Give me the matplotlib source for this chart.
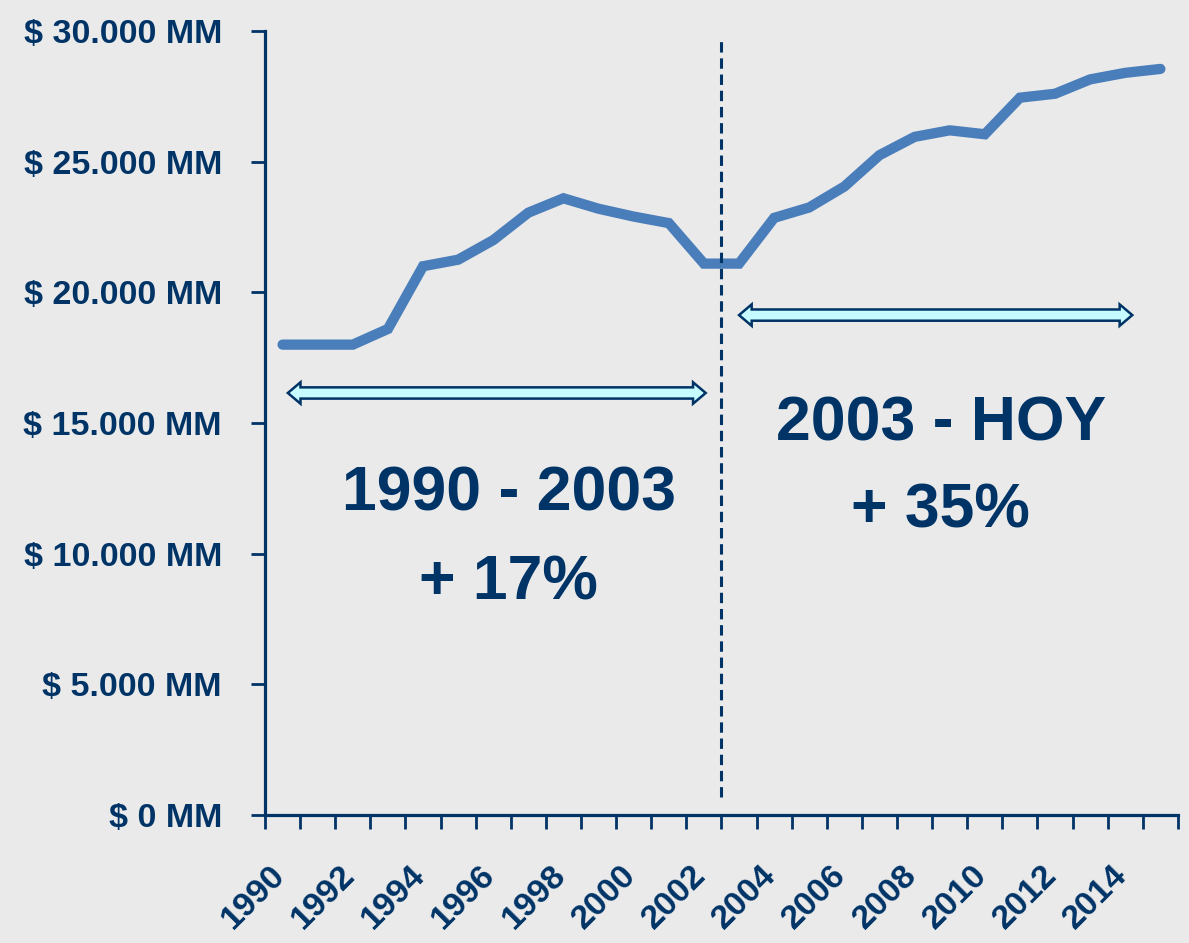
import numpy as np
import matplotlib
matplotlib.use("Agg")
import matplotlib.pyplot as plt
from matplotlib.patches import Polygon
from matplotlib.transforms import ScaledTranslation

plt.rcParams['font.family'] = ['Liberation Sans', 'DejaVu Sans']

# data
years = list(range(1990, 2016))
values = [18000, 18000, 18000, 18600, 21000, 21250, 22000, 23050, 23600, 23200,
          22900, 22650, 21100, 21100, 22850, 23250, 24050, 25250, 25950, 26200,
          26050, 27450, 27600, 28150, 28400, 28550]
yticks = [0, 5000, 10000, 15000, 20000, 25000, 30000]
ytick_labels = ['$ 0 MM', '$ 5.000 MM', '$ 10.000 MM', '$ 15.000 MM',
                '$ 20.000 MM', '$ 25.000 MM', '$ 30.000 MM']
split_year = 2003
period_titles = ['1990 - 2003', '2003 - HOY']
period_growth = ['+ 17%', '+ 35%']

navy = '#003366'
bg = '#EAEAEA'
line_col = '#4A7EBB'
arrow_fill = '#C6FCFF'

fig = plt.figure(figsize=(11.89, 9.43), dpi=100, facecolor=bg)
ax = fig.add_axes([0.2229, 0.1357, 0.9907 - 0.2229, 0.9671 - 0.1357])
ax.set_facecolor(bg)

x = np.arange(len(years))
ax.plot(x, values, color=line_col, lw=7.4, solid_capstyle='round', solid_joinstyle='miter', zorder=3)

ax.set_xlim(-0.5, len(years) - 0.5)
ax.set_ylim(0, 30000)

# axes styling
for s in ['top', 'right']:
    ax.spines[s].set_visible(False)
for s in ['left', 'bottom']:
    ax.spines[s].set_color(navy)
    ax.spines[s].set_linewidth(2.3)

ax.set_yticks(yticks)
ax.set_yticklabels(ytick_labels)
ax.tick_params(axis='y', length=10, width=2, color=navy, pad=21,
               labelsize=24.5, labelcolor=navy)
for t in ax.get_yticklabels():
    t.set_fontweight('bold')

# category ticks between years, labels every other year
ax.set_xticks(np.arange(-0.5, len(years), 1.0), minor=True)
ax.set_xticks(x[::2])
ax.set_xticklabels([str(y) for y in years[::2]], rotation=45, ha='right', va='top',
                   fontsize=24.5, fontweight='bold', color=navy)
ax.tick_params(axis='x', which='major', length=0, pad=32)
ax.tick_params(axis='x', which='minor', length=10, width=2, color=navy)
shift = ScaledTranslation(6 / 72, 0, fig.dpi_scale_trans)
for t in ax.get_xticklabels():
    t.set_transform(t.get_transform() + shift)

# split line
xs = years.index(split_year) - 0.5
ax.vlines(xs, 700, 29600, colors=navy, lw=2.2, linestyles=(0, (3.4, 1.9)), zorder=4)


def double_arrow(x0, x1, yc, fill):
    head_len = 0.36
    hh = 410   # half head height
    sh = 215   # half shaft height
    pts = [(x0, yc), (x0 + head_len, yc + hh), (x0 + head_len, yc + sh),
           (x1 - head_len, yc + sh), (x1 - head_len, yc + hh), (x1, yc),
           (x1 - head_len, yc - hh), (x1 - head_len, yc - sh),
           (x0 + head_len, yc - sh), (x0 + head_len, yc - hh)]
    ax.add_patch(Polygon(pts, closed=True, facecolor=fill, edgecolor=navy,
                         lw=1.8, joinstyle='miter', zorder=4))


# period arrows and labels
arrow_spans = [(0.15, 12.05, 16150), (13.0, 24.2, 19130)]
text_x = [6.44, 18.75]
title_y = [11670, 14350]
growth_y = [8230, 10985]
for (x0, x1, ya), tx, t1, t2, y1, y2 in zip(arrow_spans, text_x, period_titles,
                                            period_growth, title_y, growth_y):
    double_arrow(x0, x1, ya, arrow_fill)
    ax.text(tx, y1, t1, ha='center', va='baseline', fontsize=45, fontweight='bold',
            color=navy, zorder=5)
    ax.text(tx, y2, t2, ha='center', va='baseline', fontsize=45, fontweight='bold',
            color=navy, zorder=5)

fig.savefig('out.png', dpi=100, facecolor=bg)
